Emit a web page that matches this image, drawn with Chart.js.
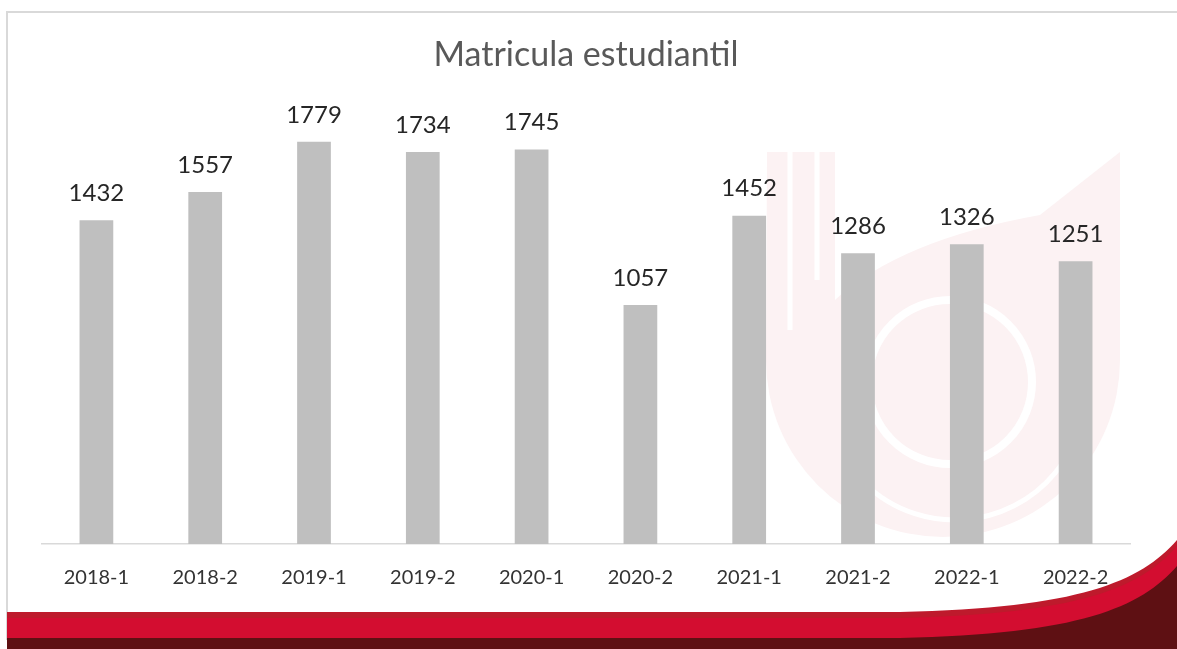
<!DOCTYPE html>
<html>
<head>
<meta charset="utf-8">
<script src="https://cdn.jsdelivr.net/npm/chart.js@4/dist/chart.umd.min.js"></script>
<style>
  html, body { margin: 0; padding: 0; background: #fff; }
  #wrap { width: 1177px; height: 649px; position: relative; }
</style>
</head>
<body>
<div id="wrap"><canvas id="chartMatricula" width="1177" height="649"></canvas></div>
<script>
// Matricula por semestre
const semestres = ['2018-1', '2018-2', '2019-1', '2019-2', '2020-1', '2020-2', '2021-1', '2021-2', '2022-1', '2022-2'];
const matricula = [1432, 1557, 1779, 1734, 1745, 1057, 1452, 1286, 1326, 1251];

const tituloGrafico = 'Matricula estudiantil';
const colorBarra = '#bfbfbf';
const fuente = 'Lato, "Open Sans", sans-serif';

// Fondo: marco, marca de agua y franja roja
const fondo = {
  id: 'fondo',
  beforeDraw(chart) {
    const ctx = chart.ctx;
    ctx.save();
    ctx.fillStyle = '#fff';
    ctx.fillRect(0, 0, chart.width, chart.height);

    // marca de agua (muy tenue)
    ctx.fillStyle = '#fcf2f3';
    ctx.beginPath();
    ctx.moveTo(767, 152);
    ctx.lineTo(835, 152);
    ctx.lineTo(835, 300);
    ctx.quadraticCurveTo(900, 240, 1040, 215);
    ctx.lineTo(1120, 152);
    ctx.lineTo(1120, 360);
    ctx.arc(943, 360, 177, 0, Math.PI, false);
    ctx.closePath();
    ctx.fill();
    // anillo blanco y circulo interior
    ctx.strokeStyle = '#fff';
    ctx.lineWidth = 8;
    ctx.beginPath();
    ctx.arc(950, 382, 82, 0, Math.PI * 2);
    ctx.stroke();
    ctx.lineWidth = 5;
    ctx.beginPath();
    ctx.moveTo(790, 152); ctx.lineTo(790, 330);
    ctx.moveTo(817, 152); ctx.lineTo(817, 280);
    ctx.stroke();
    ctx.beginPath();
    ctx.arc(955, 390, 130, Math.PI * 0.1, Math.PI * 0.75);
    ctx.stroke();

    // marco
    ctx.strokeStyle = '#d9d9d9';
    ctx.lineWidth = 2;
    ctx.beginPath();
    ctx.moveTo(7, 640);
    ctx.lineTo(7, 12);
    ctx.lineTo(1177, 12);
    ctx.stroke();

    // franja roja inferior
    const banda = (top, color) => {
      ctx.fillStyle = color;
      ctx.beginPath();
      ctx.moveTo(7, top);
      ctx.lineTo(900, top);
      ctx.bezierCurveTo(1080, top - 4, 1140, top - 30, 1177, top - 72);
      ctx.lineTo(1177, 649);
      ctx.lineTo(7, 649);
      ctx.closePath();
      ctx.fill();
    };
    banda(612, '#be1a2c');
    banda(618, '#d30d30');
    banda(638, '#5e1013');
    ctx.restore();
  }
};

// Etiquetas de valor encima de cada barra
const etiquetas = {
  id: 'etiquetas',
  afterDatasetsDraw(chart) {
    const ctx = chart.ctx;
    const meta = chart.getDatasetMeta(0);
    ctx.save();
    ctx.font = '24px ' + fuente;
    ctx.fillStyle = '#262626';
    ctx.textAlign = 'center';
    ctx.textBaseline = 'bottom';
    meta.data.forEach((bar, i) => {
      ctx.fillText(String(matricula[i]), bar.x, bar.y - 15);
    });
    ctx.restore();
  }
};

new Chart(document.getElementById('chartMatricula'), {
  type: 'bar',
  data: {
    labels: semestres,
    datasets: [{
      label: tituloGrafico,
      data: matricula,
      backgroundColor: colorBarra,
      categoryPercentage: 1,
      barPercentage: 0.31
    }]
  },
  options: {
    responsive: false,
    animation: false,
    layout: { padding: { left: 42, right: 47, top: 20, bottom: 37 } },
    plugins: {
      legend: { display: false },
      tooltip: { enabled: false },
      title: {
        display: true,
        text: tituloGrafico,
        color: '#595959',
        font: { family: fuente, size: 34, weight: 'normal' },
        padding: { top: 15, bottom: 16 }
      }
    },
    scales: {
      x: {
        grid: { display: false, drawTicks: false },
        border: { display: true, color: '#d9d9d9', width: 1.5 },
        ticks: { color: '#333333', font: { family: fuente, size: 20 }, padding: 22 }
      },
      y: {
        display: false,
        min: 0,
        max: 2000
      }
    }
  },
  plugins: [fondo, etiquetas]
});
</script>
</body>
</html>
